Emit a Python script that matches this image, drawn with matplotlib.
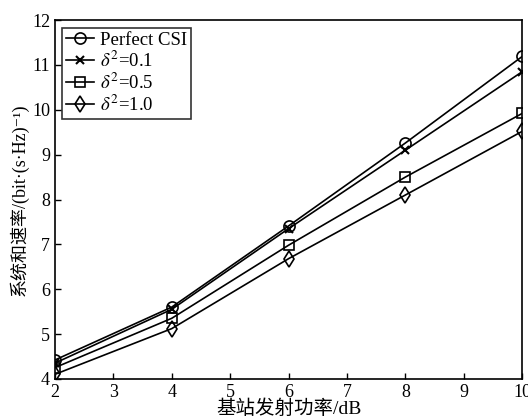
import matplotlib
matplotlib.use('Agg')
import matplotlib.pyplot as plt

plt.rcParams['font.family'] = ['Liberation Serif', 'Noto Sans CJK SC', 'DejaVu Serif']
plt.rcParams['mathtext.fontset'] = 'stix'

power_db = [2, 4, 6, 8, 10]
perfect_csi = [4.42, 5.60, 7.41, 9.26, 11.19]
delta_01 = [4.35, 5.55, 7.35, 9.10, 10.85]
delta_05 = [4.25, 5.35, 6.98, 8.50, 9.92]
delta_10 = [4.10, 5.12, 6.68, 8.10, 9.52]

fig = plt.figure(figsize=(5.28, 4.2), dpi=100)
ax = fig.add_axes([0.104, 0.098, 0.885, 0.854])

ax.plot(power_db, perfect_csi, '-o', color='black', lw=1.2, ms=8, mfc='none', mew=1.2, label='Perfect CSI')
ax.plot(power_db, delta_01, '-x', color='black', lw=1.2, ms=6, mew=1.5, label=r'$\delta^2$=0.1')
ax.plot(power_db, delta_05, '-s', color='black', lw=1.2, ms=6.5, mfc='none', mew=1.2, label=r'$\delta^2$=0.5')
ax.plot(power_db, delta_10, '-d', color='black', lw=1.2, ms=8, mfc='none', mew=1.2, label=r'$\delta^2$=1.0')

ax.set_xlim(2, 10)
ax.set_ylim(4, 12)
ax.set_xticks(range(2, 11))
ax.set_yticks(range(4, 13))
ax.tick_params(direction='in', labelsize=13, length=4, width=1)
for s in ax.spines.values():
    s.set_linewidth(1.2)

ax.set_xlabel('基站发射功率/dB', fontsize=14, labelpad=-1)
ax.set_ylabel('系统和速率/(bit·(s·Hz)⁻¹)', fontsize=13, labelpad=2)

leg = ax.legend(loc='upper left', fontsize=13.5, frameon=True, fancybox=False,
                edgecolor='black', handlelength=1.5, handletextpad=0.3,
                borderpad=0.2, labelspacing=0.1, borderaxespad=0.4)
leg.get_frame().set_linewidth(1.2)

fig.savefig('out.png', dpi=100)
